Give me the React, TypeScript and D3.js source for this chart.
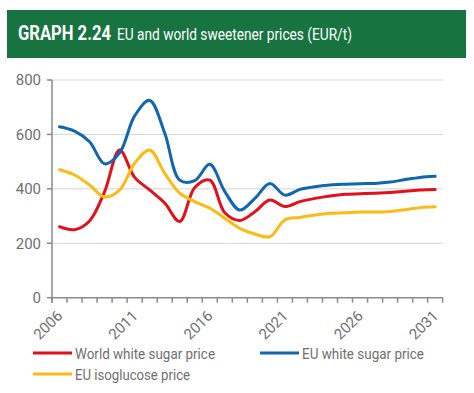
import React from 'react';
import * as d3 from 'd3';

const years = d3.range(2006, 2032).map(String);
const tickYears = ['2006', '2011', '2016', '2021', '2026', '2031'];
const yTicks = [0, 200, 400, 600, 800];

const worldSugar = [261, 250, 282, 390, 543, 442, 396, 348, 280, 405, 432, 312, 284, 316, 359, 335, 353, 365, 374, 380, 382, 384, 387, 391, 396, 398];
const euSugar = [628, 612, 573, 492, 532, 668, 725, 605, 432, 430, 490, 390, 322, 365, 420, 377, 398, 408, 414, 417, 419, 420, 425, 434, 442, 446];
const euIsoglucose = [470, 451, 414, 370, 395, 494, 543, 457, 384, 353, 329, 292, 255, 234, 224, 286, 295, 304, 310, 312, 315, 315, 317, 323, 331, 334];

const seriesNames = ['World white sugar price', 'EU white sugar price', 'EU isoglucose price'];
const seriesColors = ['#e3101a', '#0f67b1', '#fbbb14'];
const legendWidths = [140, 122, 115];

const W = 474;
const H = 393;
const left = 52;
const right = 442.7;
const top = 80;
const bottom = 297.7;
const grey = '#6f6f6f';
const font = "Roboto, 'Noto Sans', sans-serif";

const App: React.FC = () => {
  const x = d3.scaleBand().domain(years).range([left, right]).paddingInner(0).paddingOuter(0);
  const y = d3.scaleLinear().domain([0, 800]).range([bottom, top]);
  const cx = (yr: string) => (x(yr) as number) + x.bandwidth() / 2;

  const line = d3.line<number>()
    .x((_, i) => cx(years[i]))
    .y(d => y(d))
    .curve(d3.curveCatmullRom.alpha(0.5));

  const allSeries = [worldSugar, euSugar, euIsoglucose];
  const boundaries = years.map(yr => x(yr) as number).concat(right);

  return (
    <div style={{ position: 'absolute', left: 0, top: 0 }}>
      <svg width={W} height={H} style={{ display: 'block', background: '#fff' }}>
        {/* header */}
        <rect x={7} y={10} width={459} height={48} fill="#17733f" />
        <text x={18} y={40} fill="#fff" fontFamily={font} fontSize={20} fontWeight="bold"
          textLength={93} lengthAdjust="spacingAndGlyphs">GRAPH 2.24</text>
        <text x={117} y={40} fill="#fff" fontFamily={font} fontSize={16.5}
          textLength={235} lengthAdjust="spacingAndGlyphs">EU and world sweetener prices (EUR/t)</text>

        {/* grid */}
        {yTicks.filter(t => t > 0).map(t => (
          <line key={t} x1={left} x2={right} y1={y(t)} y2={y(t)} stroke="#d4d4d4" strokeWidth={1} />
        ))}

        {/* y axis */}
        <line x1={left} x2={left} y1={top} y2={bottom + 5} stroke="#8a8a8a" strokeWidth={1.5} />
        {yTicks.map(t => (
          <g key={t}>
            <line x1={left - 5} x2={left} y1={y(t)} y2={y(t)} stroke="#8a8a8a" strokeWidth={1.5} />
            <text x={41} y={y(t)} dy="0.35em" textAnchor="end" fontSize={15} fill={grey} fontFamily={font}>{t}</text>
          </g>
        ))}

        {/* x axis */}
        <line x1={left} x2={right} y1={bottom} y2={bottom} stroke="#8a8a8a" strokeWidth={1.5} />
        {boundaries.map((b, i) => (
          <line key={i} x1={b} x2={b} y1={bottom} y2={bottom + 5} stroke="#8a8a8a" strokeWidth={1.5} />
        ))}
        {tickYears.map(t => (
          <text key={t} transform={`translate(${cx(t) + 4},${bottom + 19}) rotate(-45)`} textAnchor="end"
            fontSize={15} fill={grey} fontFamily={font}>{t}</text>
        ))}

        {/* series */}
        {allSeries.map((s, i) => (
          <path key={i} d={line(s) || ''} fill="none" stroke={seriesColors[i]} strokeWidth={3} strokeLinecap="round" />
        ))}

        {/* legend */}
        {seriesNames.map((name, i) => {
          const lx = i === 1 ? 260 : 33;
          const ly = i === 2 ? 374 : 353;
          return (
            <g key={name}>
              <line x1={lx} x2={lx + 39} y1={ly} y2={ly} stroke={seriesColors[i]} strokeWidth={3} />
              <text x={lx + 42} y={ly} dy="0.36em" fontSize={15.5} fill={grey} fontFamily={font}
                textLength={legendWidths[i]} lengthAdjust="spacingAndGlyphs">{name}</text>
            </g>
          );
        })}
      </svg>
    </div>
  );
};

export default App;
